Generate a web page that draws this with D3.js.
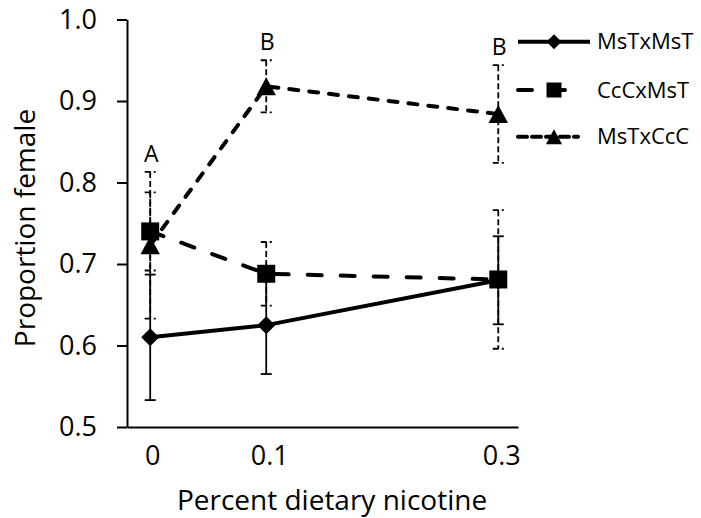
<!DOCTYPE html>
<html>
<head>
<meta charset="utf-8">
<script src="https://cdn.jsdelivr.net/npm/d3@7"></script>
<style>
  html, body { margin: 0; padding: 0; background: #fff; }
  svg { display: block; }
  text { font-family: "Open Sans", "Noto Sans", sans-serif; fill: #000; }
</style>
</head>
<body>
<svg id="chart" width="701" height="518"></svg>
<script>
// ---- data ----
const xValues = [0, 0.1, 0.3];
const xTickLabels = ["0", "0.1", "0.3"];
const yTickValues = [0.5, 0.6, 0.7, 0.8, 0.9, 1.0];
const seriesNames = ["MsTxMsT", "CcCxMsT", "MsTxCcC"];
const msTxMsT = [0.610, 0.625, 0.680];
const msTxMsTErr = [0.077, 0.060, 0.054];
const ccCxMsT = [0.740, 0.688, 0.681];
const ccCxMsTErr = [0.048, 0.039, 0.085];
const msTxCcC = [0.723, 0.918, 0.884];
const msTxCcCErr = [0.090, 0.032, 0.060];
const letterLabels = ["A", "B", "B"];
const xTitle = "Percent dietary nicotine";
const yTitle = "Proportion female";

// ---- layout ----
const svg = d3.select("#chart");
const x = d3.scaleLinear().domain([-0.02, 0.317]).range([127, 518]);
const y = d3.scaleLinear().domain([0.5, 1.0]).range([427, 19.5]);

const series = [
  { name: seriesNames[0], values: msTxMsT, err: msTxMsTErr, marker: "diamond", dash: null, errDash: null },
  { name: seriesNames[1], values: ccCxMsT, err: ccCxMsTErr, marker: "square", dash: "14,19", errDash: "6,3" },
  { name: seriesNames[2], values: msTxCcC, err: msTxCcCErr, marker: "triangle", dash: "9,11", errDash: "6,3" }
];

function markerPath(type, s) {
  const h = s / 2;
  if (type === "diamond") return `M0,${-h}L${h},0L0,${h}L${-h},0Z`;
  if (type === "square") return `M${-h},${-h}H${h}V${h}H${-h}Z`;
  const w = h * 1.08;
  return `M0,${-h}L${w},${h}L${-w},${h}Z`;
}

// axes
const yAxis = d3.axisLeft(y).tickValues(yTickValues).tickSize(10).tickSizeOuter(0)
  .tickPadding(20).tickFormat(d3.format(".1f"));
const gy = svg.append("g").attr("transform", "translate(127,0)").call(yAxis);
gy.selectAll("path.domain").attr("stroke", "#000").attr("stroke-width", 2);
gy.selectAll(".tick line").attr("stroke", "#000").attr("stroke-width", 2);
gy.selectAll(".tick text").attr("font-size", 27).attr("font-family", "Open Sans").attr("fill", "#000");

const xAxis = d3.axisBottom(x).tickValues(xValues).tickSize(0).tickSizeOuter(0)
  .tickPadding(19).tickFormat((d, i) => xTickLabels[i]);
const gx = svg.append("g").attr("transform", "translate(0,427)").call(xAxis);
gx.selectAll("path.domain").attr("stroke", "#000").attr("stroke-width", 2);
gx.selectAll(".tick text").attr("font-size", 27).attr("font-family", "Open Sans").attr("fill", "#000")
  .attr("dx", (d, i) => i === 0 ? 2 : 3);

// titles
svg.append("text").attr("x", 332).attr("y", 510).attr("text-anchor", "middle")
  .attr("font-size", 28).text(xTitle);
svg.append("text").attr("transform", "translate(35,228) rotate(-90)").attr("text-anchor", "middle")
  .attr("font-size", 28).text(yTitle);

// series
const line = d3.line().x((d, i) => x(xValues[i])).y(d => y(d));
series.forEach(s => {
  const g = svg.append("g");
  s.values.forEach((v, i) => {
    const cx = x(xValues[i]);
    const top = y(v + s.err[i]), bot = y(v - s.err[i]);
    const eb = g.append("g").attr("stroke", "#000").attr("stroke-width", 1.8).attr("fill", "none");
    eb.append("line").attr("x1", cx).attr("x2", cx).attr("y1", top).attr("y2", bot)
      .attr("stroke-dasharray", s.errDash);
    [top, bot].forEach(yy => {
      eb.append("line").attr("x1", cx - 5.5).attr("x2", cx + 5.5).attr("y1", yy).attr("y2", yy)
        .attr("stroke-dasharray", s.errDash);
    });
  });
  g.append("path").datum(s.values).attr("d", line).attr("fill", "none")
    .attr("stroke", "#000").attr("stroke-width", 4)
    .attr("stroke-linecap", s.dash ? "round" : "butt")
    .attr("stroke-dasharray", s.dash);
  g.selectAll("path.mk").data(s.values).join("path").attr("class", "mk")
    .attr("transform", (d, i) => `translate(${x(xValues[i])},${y(d)})`)
    .attr("d", markerPath(s.marker, 18)).attr("fill", "#000");
});

// significance letters
const lettersTop = xValues.map((xv, i) => d3.max(series, s => s.values[i] + s.err[i]));
svg.selectAll("text.letter").data(letterLabels).join("text").attr("class", "letter")
  .attr("x", (d, i) => x(xValues[i]) + 1)
  .attr("y", (d, i) => y(lettersTop[i]) - 10)
  .attr("text-anchor", "middle")
  .attr("font-family", "DejaVu Sans, Liberation Sans, sans-serif")
  .attr("font-size", 23).text(d => d);

// legend
const legendY = [41.7, 90, 136.7];
const lg = svg.append("g");
series.forEach((s, i) => {
  const ly = legendY[i];
  lg.append("line").attr("x1", 518).attr("x2", s.dash ? 578 : 590).attr("y1", ly).attr("y2", ly)
    .attr("stroke", "#000").attr("stroke-width", 4)
    .attr("stroke-linecap", s.dash ? "round" : "butt")
    .attr("stroke-dasharray", s.dash ? (i === 1 ? "14,19" : "9,5") : null);
  lg.append("path").attr("transform", `translate(554,${ly})`)
    .attr("d", markerPath(s.marker, 15)).attr("fill", "#000");
  lg.append("text").attr("x", 597).attr("y", ly).attr("dy", "0.35em")
    .attr("font-size", 22).text(s.name);
});
</script>
</body>
</html>
